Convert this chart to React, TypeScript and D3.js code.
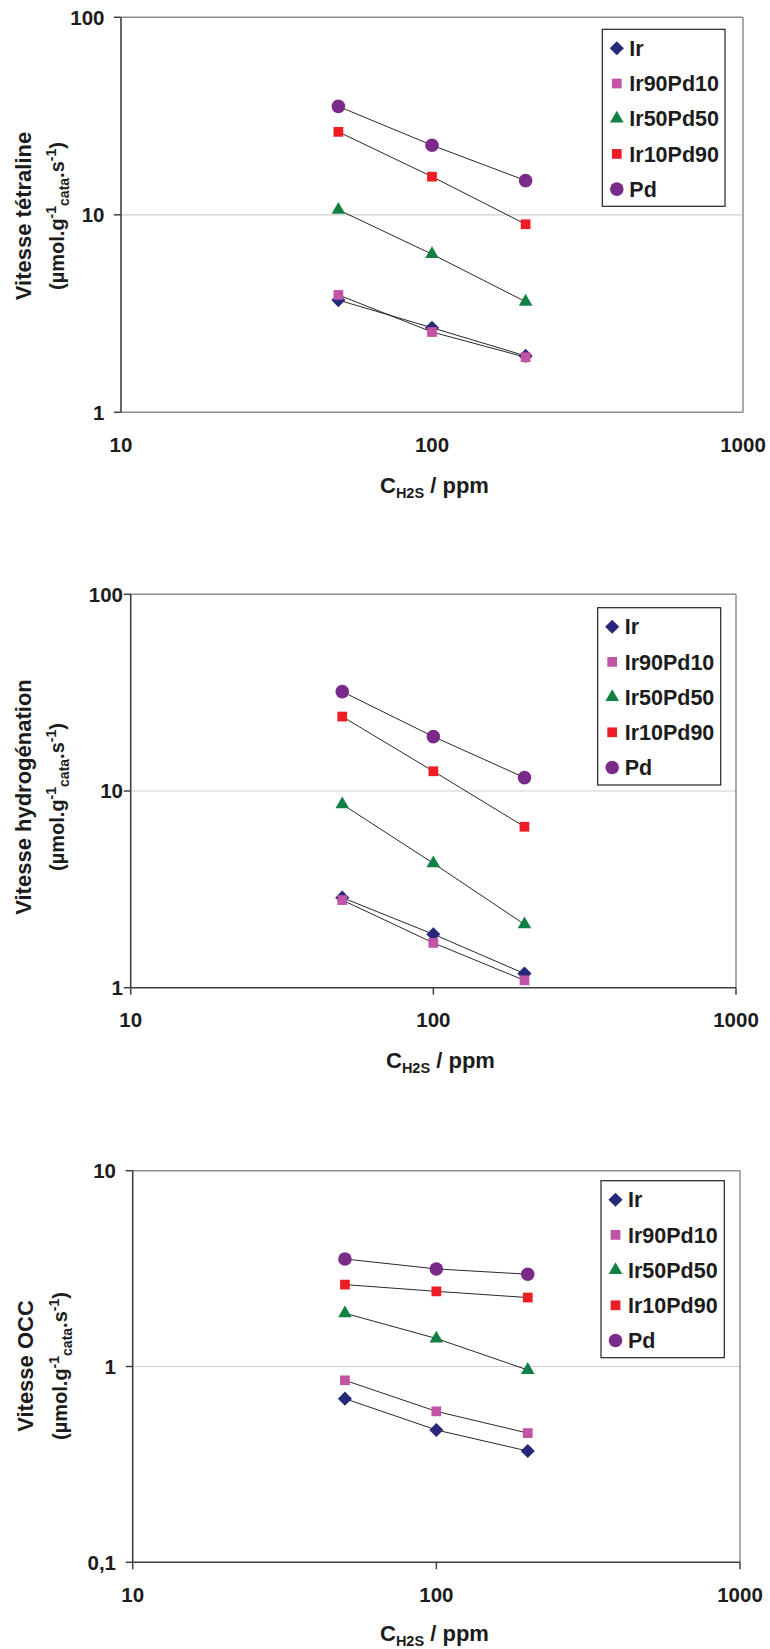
import React from 'react';
import * as d3 from 'd3';

const SERIES_NAMES = ['Ir', 'Ir90Pd10', 'Ir50Pd50', 'Ir10Pd90', 'Pd'];
const H2S_PPM = [50, 100, 200];
const X_TICKS = [10, 100, 1000];
const X_TICK_LABELS = ['10', '100', '1000'];

// Vitesse tétraline
const TETRA_IR = [3.70, 2.68, 1.93];
const TETRA_IR90PD10 = [3.93, 2.55, 1.90];
const TETRA_IR50PD50 = [10.6, 6.32, 3.63];
const TETRA_IR10PD90 = [26.3, 15.6, 8.96];
const TETRA_PD = [35.4, 22.5, 14.9];

// Vitesse hydrogénation
const HYDRO_IR = [2.87, 1.87, 1.18];
const HYDRO_IR90PD10 = [2.79, 1.69, 1.09];
const HYDRO_IR50PD50 = [8.56, 4.29, 2.10];
const HYDRO_IR10PD90 = [23.9, 12.6, 6.58];
const HYDRO_PD = [32.0, 18.9, 11.7];

// Vitesse OCC
const OCC_IR = [0.685, 0.474, 0.37];
const OCC_IR90PD10 = [0.85, 0.59, 0.457];
const OCC_IR50PD50 = [1.87, 1.39, 0.96];
const OCC_IR10PD90 = [2.62, 2.42, 2.25];
const OCC_PD = [3.54, 3.15, 2.96];

const Y_TICKS_1_100 = [1, 10, 100];
const Y_LABELS_1_100 = ['1', '10', '100'];
const Y_TICKS_01_10 = [0.1, 1, 10];
const Y_LABELS_01_10 = ['0,1', '1', '10'];

const COLORS = ['#27287a', '#c254a8', '#118043', '#ee1d25', '#7a2a88'];
const SHAPES = ['diamond', 'square', 'triangle', 'square', 'circle'];

const FONT = "'Liberation Sans', Arial, Helvetica, sans-serif";
const TEXT = '#1c1c1c';

function markerPath(shape: string, scale = 1): string {
  const gen = d3.symbol();
  if (shape === 'circle') return gen.type(d3.symbolCircle).size(145 * scale)() as string;
  if (shape === 'square') return gen.type(d3.symbolSquare).size(95 * scale)() as string;
  if (shape === 'diamond') return gen.type(d3.symbolSquare).size(100 * scale)() as string;
  return gen.type(d3.symbolTriangle).size(80 * scale)() as string;
}

function Marker({ shape, x, y, color }: { shape: string; x: number; y: number; color: string }) {
  const rot = shape === 'diamond' ? ' rotate(45)' : '';
  return <path d={markerPath(shape)} transform={`translate(${x},${y})${rot}`} fill={color} />;
}

type Layout = {
  left: number; right: number; top: number; bottom: number;
  yTicks: number[]; yLabels: string[]; yLabelEnd: number;
  xLabelY: number; xTitleX: number; xTitleY: number;
  xTicksBelow: boolean; bottomColor: string;
  legend: { x: number; y: number; w: number; h: number };
  title: string; titleX1: number; titleX2: number; titleY: number;
};

function Chart({ layout, data }: { layout: Layout; data: number[][] }) {
  const L = layout;
  const x = d3.scaleLog().domain([10, 1000]).range([L.left, L.right]);
  const y = d3.scaleLog().domain([L.yTicks[0], L.yTicks[L.yTicks.length - 1]]).range([L.bottom, L.top]);
  const line = d3.line<number>().x((_, i) => x(H2S_PPM[i])).y((d) => y(d));
  const lg = L.legend;
  return (
    <g fontFamily={FONT}>
      {L.yTicks.slice(1, -1).map((t) => (
        <line key={'g' + t} x1={L.left} x2={L.right} y1={y(t)} y2={y(t)} stroke="#cfcfcf" strokeWidth={1.2} />
      ))}
      <line x1={L.left} x2={L.right} y1={L.top} y2={L.top} stroke="#8e8e8e" strokeWidth={1.5} />
      <line x1={L.right} x2={L.right} y1={L.top} y2={L.bottom} stroke="#8e8e8e" strokeWidth={1.5} />
      <line x1={L.left} x2={L.right} y1={L.bottom} y2={L.bottom} stroke={L.bottomColor} strokeWidth={1.5} />
      <line x1={L.left} x2={L.left} y1={L.top} y2={L.bottom} stroke="#404040" strokeWidth={1.6} />
      {L.yTicks.map((t, i) => (
        <g key={'y' + t}>
          <line x1={L.left - 7} x2={L.left} y1={y(t)} y2={y(t)} stroke="#404040" strokeWidth={1.5} />
          <text x={L.yLabelEnd} y={y(t)} dy="0.36em" textAnchor="end" fontSize={20.5} fontWeight="bold" fill={TEXT}>
            {L.yLabels[i]}
          </text>
        </g>
      ))}
      {X_TICKS.map((t, i) => (
        <g key={'x' + t}>
          {L.xTicksBelow && (
            <line x1={x(t)} x2={x(t)} y1={L.bottom} y2={L.bottom + 7} stroke="#404040" strokeWidth={1.5} />
          )}
          <text x={x(t)} y={L.xLabelY} dy="0.36em" textAnchor="middle" fontSize={20.5} fontWeight="bold" fill={TEXT}>
            {X_TICK_LABELS[i]}
          </text>
        </g>
      ))}
      {data.map((vals, si) => (
        <g key={'s' + si}>
          <path d={line(vals) as string} fill="none" stroke="#111" strokeWidth={0.9} />
          {vals.map((v, i) => (
            <Marker key={i} shape={SHAPES[si]} x={x(H2S_PPM[i])} y={y(v)} color={COLORS[si]} />
          ))}
        </g>
      ))}
      <rect x={lg.x} y={lg.y} width={lg.w} height={lg.h} fill="#fff" stroke="#222" strokeWidth={1.2} />
      {SERIES_NAMES.map((name, i) => {
        const cy = lg.y + 19 + i * 35.2;
        return (
          <g key={'l' + name}>
            <Marker shape={SHAPES[i]} x={lg.x + 14.5} y={cy} color={COLORS[i]} />
            <text x={lg.x + 27} y={cy} dy="0.36em" fontSize={21.5} fontWeight="bold" fill={TEXT}>
              {name}
            </text>
          </g>
        );
      })}
      <text x={L.xTitleX} y={L.xTitleY} dy="0.36em" fontSize={22} fontWeight="bold" fill={TEXT}>
        <tspan>C</tspan>
        <tspan fontSize={14.5} dy={5}>H2S</tspan>
        <tspan dy={-5}>{' / ppm'}</tspan>
      </text>
      <text transform={`translate(${L.titleX1},${L.titleY}) rotate(-90)`} textAnchor="middle" dy="0.36em"
        fontSize={22} fontWeight="bold" fill={TEXT}>
        {L.title}
      </text>
      <text transform={`translate(${L.titleX2},${L.titleY}) rotate(-90)`} textAnchor="middle" dy="0.36em"
        fontSize={20} fontWeight="bold" fill={TEXT}>
        <tspan>(µmol.g</tspan>
        <tspan fontSize={14} dy={-8}>-1</tspan>
        <tspan fontSize={14} dy={13}>cata</tspan>
        <tspan dy={-5}>.s</tspan>
        <tspan fontSize={14} dy={-8}>-1</tspan>
        <tspan dy={8}>)</tspan>
      </text>
    </g>
  );
}

const LAYOUT_1: Layout = {
  left: 121, right: 743, top: 17.3, bottom: 412.3,
  yTicks: Y_TICKS_1_100, yLabels: Y_LABELS_1_100, yLabelEnd: 104.5,
  xLabelY: 445, xTitleX: 380, xTitleY: 485,
  xTicksBelow: false, bottomColor: '#8e8e8e',
  legend: { x: 602.3, y: 29.3, w: 122.7, h: 177 },
  title: 'Vitesse tétraline', titleX1: 23, titleX2: 57, titleY: 216,
};

const LAYOUT_2: Layout = {
  left: 130.7, right: 736, top: 594.3, bottom: 987.7,
  yTicks: Y_TICKS_1_100, yLabels: Y_LABELS_1_100, yLabelEnd: 123,
  xLabelY: 1020, xTitleX: 386, xTitleY: 1060,
  xTicksBelow: true, bottomColor: '#404040',
  legend: { x: 597.7, y: 607.7, w: 123, h: 177.3 },
  title: 'Vitesse hydrogénation', titleX1: 23, titleX2: 57, titleY: 797,
};

const LAYOUT_3: Layout = {
  left: 132.7, right: 740, top: 1170.7, bottom: 1562.3,
  yTicks: Y_TICKS_01_10, yLabels: Y_LABELS_01_10, yLabelEnd: 116,
  xLabelY: 1595, xTitleX: 380, xTitleY: 1633,
  xTicksBelow: true, bottomColor: '#404040',
  legend: { x: 601, y: 1180.7, w: 123.3, h: 177 },
  title: 'Vitesse OCC', titleX1: 25, titleX2: 60, titleY: 1366,
};

export default function App() {
  return (
    <svg width={770} height={1649} style={{ position: 'absolute', left: 0, top: 0, background: '#fff' }}>
      <rect x={0} y={0} width={770} height={1649} fill="#fff" />
      <Chart layout={LAYOUT_1} data={[TETRA_IR, TETRA_IR90PD10, TETRA_IR50PD50, TETRA_IR10PD90, TETRA_PD]} />
      <Chart layout={LAYOUT_2} data={[HYDRO_IR, HYDRO_IR90PD10, HYDRO_IR50PD50, HYDRO_IR10PD90, HYDRO_PD]} />
      <Chart layout={LAYOUT_3} data={[OCC_IR, OCC_IR90PD10, OCC_IR50PD50, OCC_IR10PD90, OCC_PD]} />
    </svg>
  );
}
